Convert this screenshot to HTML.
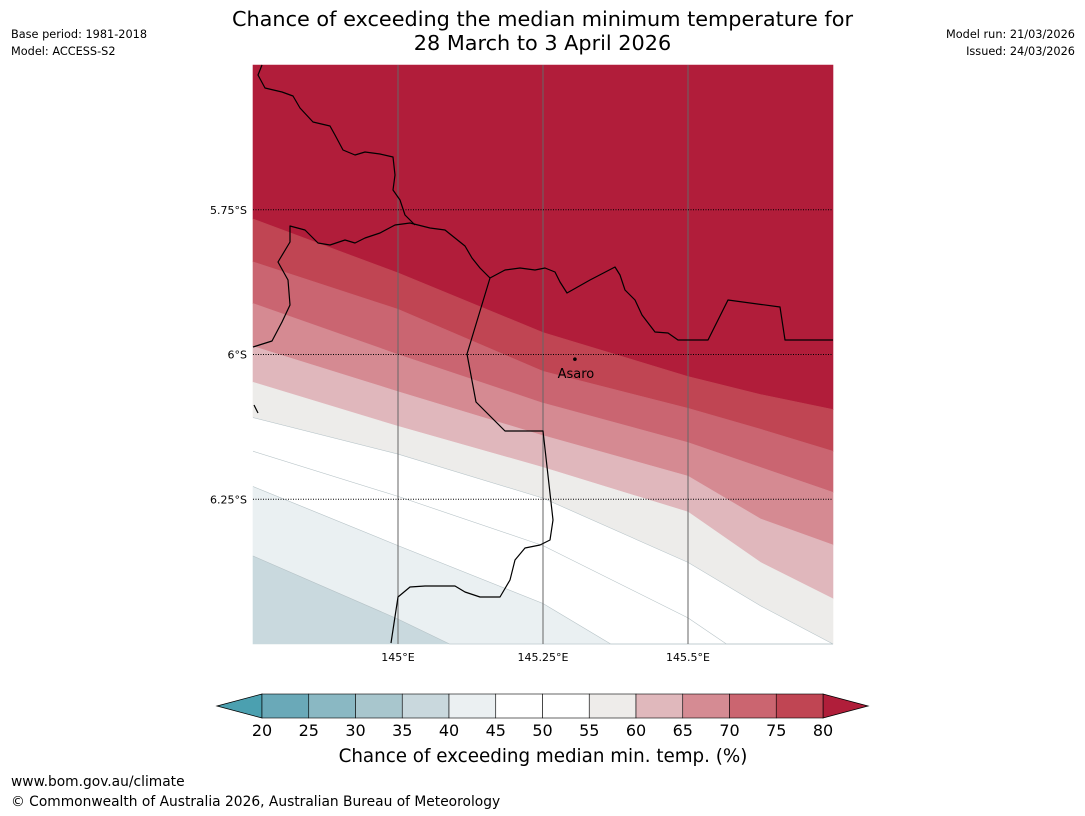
<!DOCTYPE html>
<html><head><meta charset="utf-8">
<style>
html,body{margin:0;background:#fff;font-family:"Liberation Sans","DejaVu Sans",sans-serif;overflow:hidden;width:1085px;height:816px}
#wrap{position:relative;width:1085px;height:816px;overflow:hidden;background:#fff}
.t{position:absolute;font-family:"DejaVu Sans","Liberation Sans",sans-serif;white-space:nowrap}
svg{display:block}
</style></head>
<body>
<div id="wrap">
<div class="t" style="left:0;width:1085px;top:7px;text-align:center;font-size:20.8px;line-height:24px;color:#000">Chance of exceeding the median minimum temperature for<br>28 March to 3 April 2026</div>
<div class="t" style="left:11px;top:26px;font-size:11.3px;line-height:17px">Base period: 1981-2018<br>Model: ACCESS-S2</div>
<div class="t" style="right:10px;top:26px;font-size:11.3px;line-height:17px;text-align:right">Model run: 21/03/2026<br>Issued: 24/03/2026</div>
<div class="t" style="left:11px;top:774px;font-size:13.8px;line-height:16px">www.bom.gov.au/climate</div>
<div class="t" style="left:11px;top:794px;font-size:13.8px;line-height:16px">© Commonwealth of Australia 2026, Australian Bureau of Meteorology</div>
<svg id="svg" width="1085" height="816" style="position:absolute;left:0;top:0"></svg>
</div>
<script>
const lons=[144.75,145,145.25,145.5,145.625,145.75];
const levels=[80,75,70,65,60,55,50,45,40];
const b80=[-5.766,-5.859,-5.962,-6.038,-6.069,-6.095];
const b75=[-5.840,-5.922,-6.029,-6.093,-6.129,-6.167];
const b70=[-5.912,-6.000,-6.084,-6.152,-6.195,-6.238];
const b65=[-5.986,-6.064,-6.140,-6.210,-6.284,-6.329];
const b60=[-6.048,-6.124,-6.195,-6.272,-6.359,-6.422];
const b55=[-6.109,-6.172,-6.248,-6.359,-6.434,-6.500];
const b50=[-6.167,-6.245,-6.330,-6.455,-6.540,-6.610];
const b45=[-6.228,-6.330,-6.430,-6.580,-6.670,-6.760];
const b40=[-6.348,-6.457,-6.578,-6.720,-6.790,-6.860];
const bounds=[b80,b75,b70,b65,b60,b55,b50,b45,b40];
const bandColors=["#b11d3a","#c04553","#ca6571","#d58a92","#e0b7bc","#edecea","#ffffff","#ffffff","#eaf0f2","#c9d9de"];
const cbTicks=[20,25,30,35,40,45,50,55,60,65,70,75,80];
const cbColors=["#6aa9b8","#8ab8c3","#a8c6cd","#c9d8dd","#ebf0f2","#ffffff","#ffffff","#eeecea","#e0b8bc","#d58b93","#cb6570","#c04553"];
const lonTicks=[145,145.25,145.5];
const lonLabels=["145°E","145.25°E","145.5°E"];
const latTicks=[-5.75,-6,-6.25];
const latLabels=["5.75°S","6°S","6.25°S"];
const towns=["Asaro"];const townLon=[145.305];const townLat=[-6.008];

const NS="http://www.w3.org/2000/svg";
const svg=document.getElementById('svg');
const X0=253,X1=833,Y0=65,Y1=644;
const lonMin=144.75,lonMax=145.75,latMax=-5.5,latMin=-6.5;
const xs=l=>X0+(l-lonMin)/(lonMax-lonMin)*(X1-X0);
const ys=l=>Y0+(latMax-l)/(latMax-latMin)*(Y1-Y0);
function el(tag,attrs,parent){const e=document.createElementNS(NS,tag);for(const k in attrs)e.setAttribute(k,attrs[k]);(parent||svg).appendChild(e);return e;}

const g=el('g',{});



const YB=Y1;
function rawPts(b){return lons.map((l,i)=>[xs(l),ys(b[i])]);}
function clipPts(p){
  const out=[];
  for(let i=0;i<p.length;i++){
    if(i>0){const a=p[i-1],c=p[i];
      if((a[1]-YB)*(c[1]-YB)<0){const t=(YB-a[1])/(c[1]-a[1]);out.push([a[0]+t*(c[0]-a[0]),YB]);}}
    out.push([p[i][0],Math.min(p[i][1],YB)]);
  }
  return out;
}
const fmt=p=>p.map(q=>q[0].toFixed(1)+','+q[1].toFixed(1));
for(let i=0;i<=bounds.length;i++){
  const top=i===0?null:bounds[i-1];
  const bot=i===bounds.length?null:bounds[i];
  let pts=[];
  if(top) pts=pts.concat(fmt(clipPts(rawPts(top)))); else pts.push(X0+','+Y0,X1+','+Y0);
  if(bot) pts=pts.concat(fmt(clipPts(rawPts(bot))).reverse()); else pts.push(X1+','+Y1,X0+','+Y1);
  const p=el('polygon',{points:pts.join(' '),fill:bandColors[i],stroke:bandColors[i],'stroke-width':0.6},g);
  
  
}
bounds.forEach((b,i)=>{
  if(levels[i]<=55){const l=el('polyline',{points:fmt(clipPts(rawPts(b))).join(' '),fill:'none',stroke:'#b8c4c8','stroke-width':0.6},g);
  }
});
lonTicks.forEach((l,i)=>{const ln=el('line',{x1:xs(l),x2:xs(l),y1:Y0,y2:Y1,stroke:'#666','stroke-width':1},g);

const t=el('text',{x:xs(l),y:Y1+17,'font-size':11,'text-anchor':'middle','font-family':'DejaVu Sans, Liberation Sans, sans-serif'});t.textContent=lonLabels[i];
});
latTicks.forEach((l,i)=>{const ln=el('line',{x1:X0,x2:X1,y1:ys(l),y2:ys(l),stroke:'#000','stroke-width':1,'stroke-dasharray':'1,1.5'},g);

const t=el('text',{x:X0-6,y:ys(l)+4,'font-size':11,'text-anchor':'end','font-family':'DejaVu Sans, Liberation Sans, sans-serif'});t.textContent=latLabels[i];
});
const coast1="262,65 258,75 265,88 282,92 293,96 300,108 313,122 330,126 335,135 343,150 355,155 365,152 380,154 393,157 395,175 393,190 400,200 405,215 415,225";
const coast2="253,347 272,341 282,322 290,305 288,280 278,262 290,242 290,226 305,230 318,243 330,245 345,240 355,243 365,238 380,233 395,225 410,223 430,228 445,230 455,238 465,246 472,258 480,268 490,278 505,270 520,268 535,270 545,268 555,272 560,282 567,293 590,280 615,267 620,275 625,290 635,300 642,315 655,332 668,333 678,340 708,340 728,300 780,307 785,340 833,340";
const border="490,278 467,354 476,402 505,431 543,431 553,520 550,540 540,545 525,548 515,560 510,580 500,597 480,597 465,592 455,586 440,586 425,586 410,587 398,597 391,643";
[[coast1,'coastline-north'],[coast2,'coastline-south'],[border,'border-line'],["254,405 258,413",'coastline-fragment']].forEach(c=>{
const p=el('polyline',{points:c[0],fill:'none',stroke:'#000','stroke-width':1.2,'stroke-linejoin':'round'},g);
});
towns.forEach((n,i)=>{const c=el('circle',{cx:xs(townLon[i]),cy:ys(townLat[i]),r:1.8,fill:'#000'},g);

const t=el('text',{x:xs(townLon[i])+1,y:ys(townLat[i])+19,'font-size':13,'text-anchor':'middle','font-family':'DejaVu Sans, Liberation Sans, sans-serif'});t.textContent=n;
});

const CB0=262,CB1=823,CBy=694,CBh=24;
const cx=v=>CB0+(v-cbTicks[0])/(cbTicks[cbTicks.length-1]-cbTicks[0])*(CB1-CB0);
const cb=el('g',{});
const lt=el('polygon',{points:`${CB0},${CBy} ${CB0},${CBy+CBh} 217,${CBy+CBh/2}`,fill:'#4ba0b0',stroke:'#000','stroke-width':0.8},cb);

const rt=el('polygon',{points:`${CB1},${CBy} ${CB1},${CBy+CBh} 868,${CBy+CBh/2}`,fill:'#b01e3a',stroke:'#000','stroke-width':0.8},cb);

cbColors.forEach((c,i)=>{const r=el('rect',{x:cx(cbTicks[i]),y:CBy,width:cx(cbTicks[i+1])-cx(cbTicks[i]),height:CBh,fill:c,stroke:'#000','stroke-width':0.6},cb);
});
cbTicks.forEach((v,i)=>{const t=el('text',{x:cx(v),y:CBy+CBh+18,'font-size':16,'text-anchor':'middle','font-family':'DejaVu Sans, Liberation Sans, sans-serif'},cb);t.textContent=v;
});
const ct=el('text',{x:543,y:762,'font-size':18.3,'text-anchor':'middle','font-family':'DejaVu Sans, Liberation Sans, sans-serif'},cb);ct.textContent='Chance of exceeding median min. temp. (%)';

</script>
</body></html>
